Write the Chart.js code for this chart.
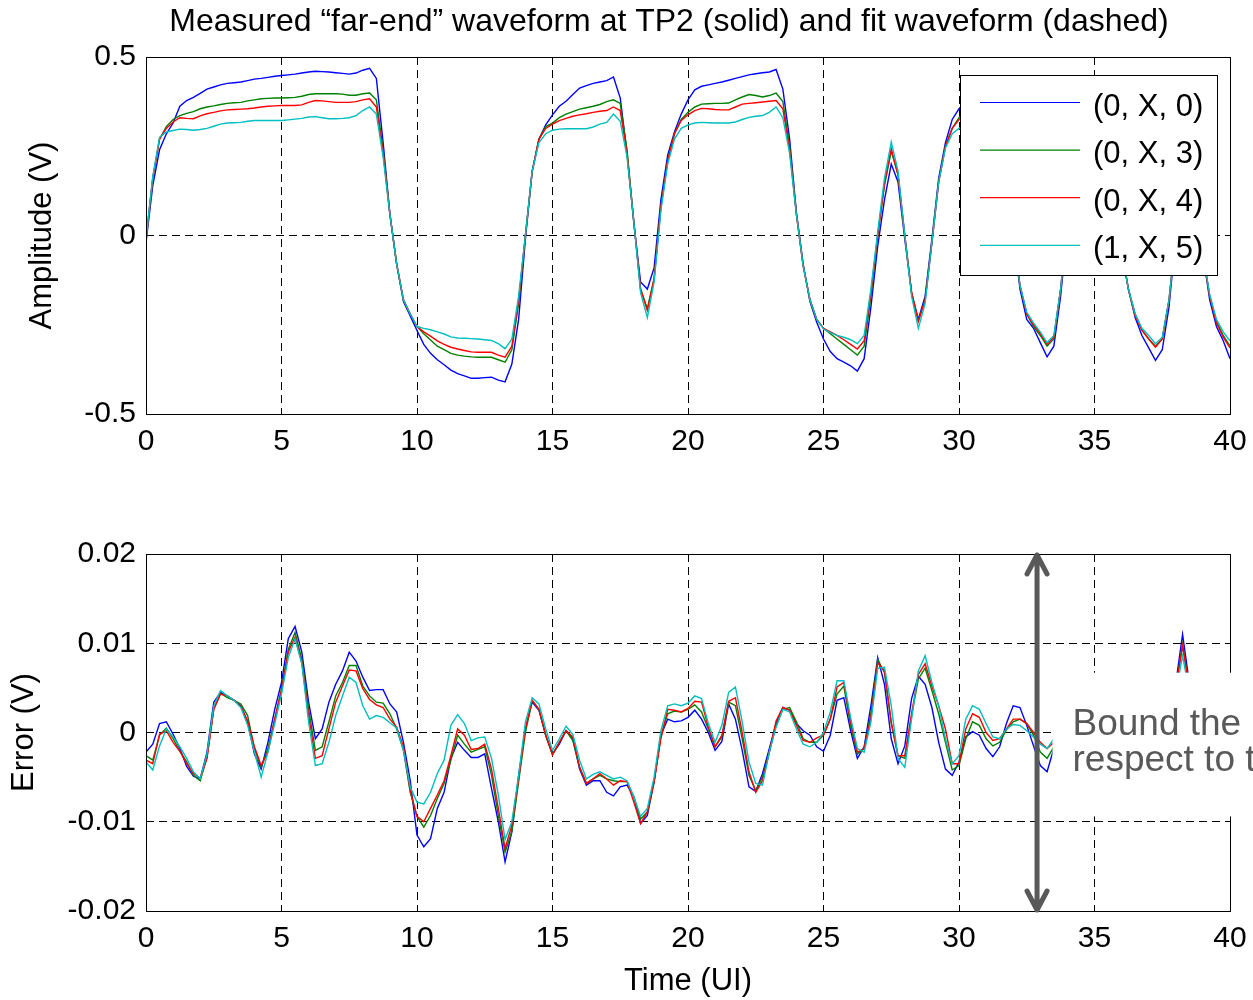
<!DOCTYPE html>
<html>
<head>
<meta charset="utf-8">
<script src="https://cdn.jsdelivr.net/npm/chart.js@4.4.1/dist/chart.umd.min.js"></script>
<style>
  body { margin: 0; background: #fff; }
  #wrap { position: relative; width: 1253px; height: 1000px; }
  .pane { position: absolute; left: 0; width: 1253px; }
  #topPane { top: 0; height: 470px; }
  #bottomPane { top: 470px; height: 530px; }
</style>
</head>
<body>
<div id="wrap">
  <div class="pane" id="topPane"><canvas id="ampChart"></canvas></div>
  <div class="pane" id="bottomPane"><canvas id="errChart"></canvas></div>
</div>
<script>
// sample times (UI)
const timeUI = [
  0, 0.25, 0.5, 0.75, 1, 1.25, 1.5, 1.75, 2, 2.25, 2.5, 2.75, 3, 3.25, 3.5, 3.75, 4, 4.25, 4.5, 4.75,
  5, 5.25, 5.5, 5.75, 6, 6.25, 6.5, 6.75, 7, 7.25, 7.5, 7.75, 8, 8.25, 8.5, 8.75, 9, 9.25, 9.5, 9.75,
  10, 10.25, 10.5, 10.75, 11, 11.25, 11.5, 11.75, 12, 12.25, 12.5, 12.75, 13, 13.25, 13.5, 13.75, 14, 14.25, 14.5, 14.75,
  15, 15.25, 15.5, 15.75, 16, 16.25, 16.5, 16.75, 17, 17.25, 17.5, 17.75, 18, 18.25, 18.5, 18.75, 19, 19.25, 19.5, 19.75,
  20, 20.25, 20.5, 20.75, 21, 21.25, 21.5, 21.75, 22, 22.25, 22.5, 22.75, 23, 23.25, 23.5, 23.75, 24, 24.25, 24.5, 24.75,
  25, 25.25, 25.5, 25.75, 26, 26.25, 26.5, 26.75, 27, 27.25, 27.5, 27.75, 28, 28.25, 28.5, 28.75, 29, 29.25, 29.5, 29.75,
  30, 30.25, 30.5, 30.75, 31, 31.25, 31.5, 31.75, 32, 32.25, 32.5, 32.75, 33, 33.25, 33.5, 33.75, 34, 34.25, 34.5, 34.75,
  35, 35.25, 35.5, 35.75, 36, 36.25, 36.5, 36.75, 37, 37.25, 37.5, 37.75, 38, 38.25, 38.5, 38.75, 39, 39.25, 39.5, 39.75,
  40
];

const seriesNames = ['(0, X, 0)', '(0, X, 3)', '(0, X, 4)', '(1, X, 5)'];
const seriesColors = ['#0000ff', '#008000', '#ff0000', '#00bfbf'];

const timeTicks = [0, 5, 10, 15, 20, 25, 30, 35, 40];
const ampTicks = [-0.5, 0, 0.5];
const errTicks = [-0.02, -0.01, 0, 0.01, 0.02];

// Measured far-end waveform (V)
const ampBlue = [
  -0.02, 0.14, 0.24, 0.285, 0.315, 0.362, 0.378, 0.387, 0.398, 0.41, 0.416, 0.422, 0.426, 0.428, 0.43, 0.434, 0.438, 0.44, 0.443, 0.446,
  0.448, 0.45, 0.452, 0.455, 0.458, 0.46, 0.459, 0.458, 0.456, 0.454, 0.452, 0.455, 0.463, 0.468, 0.44, 0.26, 0.06, -0.08, -0.185, -0.225,
  -0.266, -0.305, -0.33, -0.348, -0.362, -0.377, -0.387, -0.393, -0.4, -0.4, -0.398, -0.397, -0.405, -0.41, -0.36, -0.235, -0.01, 0.18, 0.27, 0.31,
  0.338, 0.362, 0.376, 0.395, 0.413, 0.42, 0.426, 0.43, 0.434, 0.444, 0.385, 0.23, 0.035, -0.13, -0.15, -0.09, 0.1, 0.225, 0.29, 0.34,
  0.38, 0.408, 0.418, 0.422, 0.426, 0.43, 0.435, 0.44, 0.445, 0.45, 0.453, 0.456, 0.458, 0.465, 0.41, 0.27, 0.065, -0.08, -0.185, -0.243,
  -0.29, -0.325, -0.345, -0.355, -0.365, -0.38, -0.345, -0.2, -0.03, 0.1, 0.2, 0.15, -0.01, -0.16, -0.235, -0.17, -0.01, 0.16, 0.26, 0.325,
  0.355, 0.375, 0.39, 0.4, 0.41, 0.42, 0.35, 0.2, 0.01, -0.15, -0.235, -0.26, -0.3, -0.34, -0.31, -0.17, 0.02, 0.17, 0.25, 0.3,
  0.33, 0.35, 0.28, 0.13, -0.04, -0.15, -0.23, -0.28, -0.315, -0.35, -0.32, -0.2, 0.0, 0.16, 0.22, 0.1, -0.05, -0.18, -0.255, -0.295,
  -0.345
];
const ampGreen = [
  -0.01, 0.16, 0.27, 0.305, 0.325, 0.336, 0.342, 0.347, 0.355, 0.36, 0.363, 0.367, 0.37, 0.372, 0.373, 0.377, 0.38, 0.383, 0.384, 0.385,
  0.385, 0.386, 0.387, 0.39, 0.395, 0.397, 0.397, 0.397, 0.397, 0.396, 0.393, 0.393, 0.397, 0.399, 0.38, 0.24, 0.06, -0.08, -0.18, -0.22,
  -0.255, -0.275, -0.293, -0.31, -0.32, -0.33, -0.335, -0.338, -0.34, -0.341, -0.341, -0.341, -0.348, -0.355, -0.32, -0.19, 0.0, 0.18, 0.27, 0.305,
  0.315, 0.33, 0.34, 0.347, 0.354, 0.358, 0.362, 0.367, 0.375, 0.38, 0.37, 0.24, 0.04, -0.15, -0.205, -0.12, 0.08, 0.21, 0.285, 0.325,
  0.345, 0.36, 0.368, 0.369, 0.37, 0.37, 0.371, 0.38, 0.388, 0.395, 0.392, 0.388, 0.392, 0.399, 0.375, 0.25, 0.06, -0.085, -0.18, -0.235,
  -0.26, -0.275, -0.29, -0.305, -0.32, -0.335, -0.31, -0.17, 0.0, 0.14, 0.237, 0.17, 0.0, -0.16, -0.24, -0.18, -0.02, 0.15, 0.25, 0.3,
  0.33, 0.35, 0.36, 0.365, 0.37, 0.375, 0.33, 0.19, 0.01, -0.14, -0.22, -0.255, -0.28, -0.31, -0.29, -0.15, 0.03, 0.16, 0.23, 0.27,
  0.3, 0.31, 0.26, 0.12, -0.04, -0.15, -0.22, -0.265, -0.29, -0.31, -0.29, -0.18, 0.0, 0.14, 0.2, 0.09, -0.05, -0.17, -0.24, -0.28,
  -0.31
];
const ampRed = [
  -0.01, 0.16, 0.27, 0.3, 0.318, 0.33, 0.328, 0.327, 0.335, 0.341, 0.345, 0.349, 0.352, 0.353, 0.354, 0.355, 0.357, 0.36, 0.362, 0.363,
  0.364, 0.364, 0.364, 0.366, 0.373, 0.378, 0.377, 0.375, 0.373, 0.373, 0.373, 0.375, 0.38, 0.383, 0.36, 0.23, 0.06, -0.08, -0.18, -0.22,
  -0.255, -0.27, -0.282, -0.295, -0.305, -0.313, -0.318, -0.322, -0.326, -0.327, -0.327, -0.327, -0.335, -0.341, -0.31, -0.18, 0.0, 0.18, 0.27, 0.3,
  0.312, 0.322, 0.328, 0.334, 0.338, 0.341, 0.345, 0.348, 0.35, 0.36, 0.35, 0.23, 0.04, -0.15, -0.21, -0.12, 0.08, 0.21, 0.285, 0.322,
  0.338, 0.35, 0.356, 0.355, 0.353, 0.352, 0.352, 0.36, 0.368, 0.37, 0.372, 0.374, 0.376, 0.378, 0.355, 0.24, 0.06, -0.085, -0.18, -0.235,
  -0.26, -0.27, -0.28, -0.292, -0.305, -0.318, -0.295, -0.16, 0.0, 0.145, 0.243, 0.17, 0.0, -0.16, -0.24, -0.18, -0.02, 0.15, 0.25, 0.3,
  0.325, 0.34, 0.345, 0.35, 0.355, 0.36, 0.32, 0.18, 0.01, -0.14, -0.22, -0.25, -0.275, -0.305, -0.285, -0.15, 0.03, 0.16, 0.23, 0.27,
  0.29, 0.3, 0.25, 0.12, -0.04, -0.15, -0.225, -0.265, -0.29, -0.313, -0.29, -0.18, 0.0, 0.14, 0.2, 0.09, -0.05, -0.17, -0.245, -0.285,
  -0.315
];
const ampCyan = [
  -0.01, 0.165, 0.275, 0.29, 0.294, 0.298, 0.297, 0.295, 0.297, 0.3, 0.306, 0.312, 0.315, 0.316, 0.317, 0.32, 0.322, 0.322, 0.322, 0.322,
  0.322, 0.324, 0.326, 0.328, 0.332, 0.333, 0.33, 0.327, 0.327, 0.328, 0.33, 0.336, 0.35, 0.36, 0.34, 0.22, 0.06, -0.08, -0.18, -0.22,
  -0.255, -0.26, -0.264, -0.27, -0.276, -0.284, -0.287, -0.288, -0.289, -0.29, -0.292, -0.294, -0.303, -0.317, -0.29, -0.17, 0.0, 0.18, 0.26, 0.285,
  0.295, 0.298, 0.299, 0.299, 0.299, 0.299, 0.304, 0.312, 0.317, 0.34, 0.32, 0.22, 0.04, -0.16, -0.23, -0.13, 0.07, 0.2, 0.27, 0.3,
  0.31, 0.315, 0.317, 0.316, 0.315, 0.315, 0.315, 0.318, 0.325, 0.331, 0.334, 0.336, 0.345, 0.36, 0.33, 0.23, 0.06, -0.085, -0.18, -0.235,
  -0.262, -0.272, -0.28, -0.285, -0.292, -0.303, -0.28, -0.15, 0.01, 0.16, 0.262, 0.18, 0.0, -0.17, -0.26, -0.19, -0.02, 0.15, 0.245, 0.285,
  0.3, 0.31, 0.315, 0.318, 0.32, 0.325, 0.29, 0.17, 0.01, -0.14, -0.215, -0.245, -0.27, -0.3, -0.28, -0.15, 0.03, 0.16, 0.22, 0.26,
  0.28, 0.29, 0.24, 0.11, -0.04, -0.15, -0.22, -0.26, -0.28, -0.303, -0.285, -0.18, 0.0, 0.13, 0.19, 0.08, -0.05, -0.165, -0.235, -0.27,
  -0.295
];

// Fit error (V) - null where the picture hides the trace
const errBlue = [
  -0.0022, -0.0013, 0.0010, 0.0012, -0.0002, -0.0018, -0.0038, -0.0049, -0.0052, -0.0022, 0.0034, 0.0045, 0.0041, 0.0036, 0.0030, 0.0012, -0.0024, -0.0041, -0.0011, 0.0026,
  0.0056, 0.0105, 0.0119, 0.0090, 0.0034, -0.0007, 0.0004, 0.0034, 0.0054, 0.0069, 0.0090, 0.0080, 0.0062, 0.0047, 0.0048, 0.0048, 0.0032, 0.0023, -0.0011, -0.0054,
  -0.0115, -0.0128, -0.0119, -0.0085, -0.0067, -0.0029, -0.0011, -0.0020, -0.0028, -0.0028, -0.0024, -0.0063, -0.0100, -0.0145, -0.0111, -0.0048, 0.0004, 0.0034, 0.0025, -0.0003,
  -0.0024, -0.0013, 0.0002, -0.0007, -0.0041, -0.0059, -0.0054, -0.0054, -0.0067, -0.0071, -0.0061, -0.0059, -0.0072, -0.0102, -0.0093, -0.0055, -0.0003, 0.0015, 0.0012, 0.0013,
  0.0017, 0.0025, 0.0015, 0.0000, -0.0020, -0.0010, 0.0032, 0.0015, -0.0020, -0.0061, -0.0066, -0.0046, -0.0018, 0.0010, 0.0028, 0.0025, 0.0010, 0.0002, -0.0003, -0.0016,
  -0.0021, -0.0003, 0.0036, 0.0039, 0.0002, -0.0029, -0.0016, 0.0030, 0.0084, 0.0054, -0.0007, -0.0035, -0.0015, 0.0038, 0.0063, 0.0054, 0.0028, -0.0011, -0.0041, -0.0048,
  -0.0033, -0.0005, 0.0001, -0.0003, -0.0018, -0.0027, -0.0016, 0.0010, 0.0030, 0.0028, 0.0008, -0.0015, -0.0037, -0.0044, -0.0018, null, null, null, null, null,
  null, null, null, null, null, null, null, null, null, null, null, null, 0.0055, 0.0110, 0.0055, null, null, null, null, null,
  null
];
const errGreen = [
  -0.0026, -0.0031, -0.0003, 0.0005, -0.0007, -0.0021, -0.0033, -0.0048, -0.0054, -0.0028, 0.0026, 0.0044, 0.0039, 0.0036, 0.0032, 0.0019, -0.0018, -0.0039, -0.0018, 0.0015,
  0.0049, 0.0093, 0.0112, 0.0082, 0.0026, -0.0020, -0.0016, 0.0012, 0.0041, 0.0056, 0.0075, 0.0075, 0.0052, 0.0041, 0.0034, 0.0033, 0.0021, 0.0004, -0.0020, -0.0067,
  -0.0094, -0.0106, -0.0093, -0.0074, -0.0057, -0.0031, -0.0003, -0.0013, -0.0022, -0.0019, -0.0016, -0.0048, -0.0093, -0.0134, -0.0111, -0.0055, 0.0000, 0.0036, 0.0026, -0.0003,
  -0.0025, -0.0011, 0.0002, -0.0009, -0.0039, -0.0057, -0.0052, -0.0048, -0.0052, -0.0054, -0.0055, -0.0055, -0.0072, -0.0097, -0.0089, -0.0055, -0.0003, 0.0021, 0.0024, 0.0023,
  0.0026, 0.0031, 0.0023, 0.0004, -0.0016, -0.0005, 0.0034, 0.0030, -0.0007, -0.0048, -0.0065, -0.0050, -0.0022, 0.0008, 0.0026, 0.0028, 0.0012, -0.0007, -0.0011, -0.0011,
  -0.0003, 0.0015, 0.0043, 0.0052, 0.0008, -0.0024, -0.0018, 0.0021, 0.0082, 0.0067, 0.0010, -0.0026, -0.0029, 0.0019, 0.0060, 0.0072, 0.0047, 0.0021, -0.0011, -0.0042,
  -0.0037, -0.0007, 0.0012, 0.0008, -0.0007, -0.0015, -0.0011, 0.0003, 0.0012, 0.0015, 0.0010, -0.0003, -0.0022, -0.0029, -0.0016, null, null, null, null, null,
  null, null, null, null, null, null, null, null, null, null, null, null, 0.0050, 0.0099, 0.0050, null, null, null, null, null,
  null
];
const errRed = [
  -0.0031, -0.0035, -0.0002, 0.0002, -0.0011, -0.0021, -0.0035, -0.0046, -0.0051, -0.0029, 0.0026, 0.0043, 0.0041, 0.0036, 0.0029, 0.0013, -0.0016, -0.0037, -0.0022, 0.0015,
  0.0047, 0.0090, 0.0107, 0.0078, 0.0019, -0.0029, -0.0026, 0.0004, 0.0034, 0.0052, 0.0070, 0.0069, 0.0049, 0.0037, 0.0031, 0.0028, 0.0015, 0.0006, -0.0016, -0.0065,
  -0.0094, -0.0100, -0.0085, -0.0070, -0.0054, -0.0026, 0.0004, -0.0003, -0.0019, -0.0018, -0.0013, -0.0041, -0.0085, -0.0130, -0.0104, -0.0052, 0.0004, 0.0036, 0.0026, -0.0003,
  -0.0025, -0.0011, 0.0002, -0.0005, -0.0039, -0.0057, -0.0052, -0.0046, -0.0052, -0.0059, -0.0054, -0.0055, -0.0078, -0.0102, -0.0089, -0.0055, -0.0007, 0.0026, 0.0025, 0.0023,
  0.0027, 0.0035, 0.0034, 0.0006, -0.0016, -0.0003, 0.0035, 0.0039, 0.0000, -0.0044, -0.0067, -0.0054, -0.0022, 0.0013, 0.0028, 0.0025, 0.0008, -0.0009, -0.0011, -0.0006,
  -0.0003, 0.0015, 0.0051, 0.0056, 0.0012, -0.0022, -0.0018, 0.0017, 0.0078, 0.0069, 0.0012, -0.0026, -0.0026, 0.0021, 0.0065, 0.0077, 0.0052, 0.0030, 0.0004, -0.0035,
  -0.0035, 0.0004, 0.0021, 0.0017, 0.0000, -0.0009, -0.0007, 0.0004, 0.0015, 0.0015, 0.0010, 0.0000, -0.0011, -0.0018, -0.0011, null, null, null, null, null,
  null, null, null, null, null, null, null, null, null, null, null, null, 0.0050, 0.0097, 0.0050, null, null, null, null, null,
  null
];
const errCyan = [
  -0.0033, -0.0042, -0.0015, 0.0004, -0.0005, -0.0016, -0.0029, -0.0044, -0.0052, -0.0024, 0.0030, 0.0047, 0.0041, 0.0036, 0.0028, 0.0008, -0.0022, -0.0050, -0.0022, 0.0010,
  0.0043, 0.0084, 0.0105, 0.0077, 0.0012, -0.0037, -0.0035, -0.0011, 0.0019, 0.0041, 0.0062, 0.0056, 0.0030, 0.0015, 0.0019, 0.0017, 0.0011, 0.0005, -0.0020, -0.0061,
  -0.0078, -0.0080, -0.0067, -0.0046, -0.0031, 0.0008, 0.0020, 0.0010, -0.0009, -0.0006, -0.0005, -0.0029, -0.0070, -0.0120, -0.0100, -0.0048, 0.0012, 0.0039, 0.0032, 0.0004,
  -0.0020, -0.0007, 0.0007, -0.0002, -0.0031, -0.0052, -0.0047, -0.0044, -0.0048, -0.0052, -0.0050, -0.0054, -0.0072, -0.0094, -0.0085, -0.0050, 0.0002, 0.0030, 0.0032, 0.0030,
  0.0033, 0.0041, 0.0038, 0.0010, -0.0011, 0.0008, 0.0045, 0.0051, 0.0012, -0.0033, -0.0057, -0.0059, -0.0022, 0.0006, 0.0026, 0.0023, 0.0004, -0.0013, -0.0016, -0.0011,
  0.0000, 0.0023, 0.0058, 0.0058, 0.0017, -0.0018, -0.0022, 0.0012, 0.0072, 0.0073, 0.0030, -0.0029, -0.0039, 0.0015, 0.0069, 0.0086, 0.0056, 0.0030, -0.0007, -0.0035,
  -0.0026, 0.0015, 0.0030, 0.0026, 0.0010, -0.0005, -0.0007, 0.0004, 0.0009, 0.0008, 0.0002, -0.0005, -0.0013, -0.0018, -0.0007, null, null, null, null, null,
  null, null, null, null, null, null, null, null, null, null, null, null, 0.0045, 0.0086, 0.0045, null, null, null, null, null,
  null
];

const FONT = "'Liberation Sans', Arial, Helvetica, sans-serif";
Chart.defaults.font.family = FONT;
Chart.defaults.color = '#000';

function buildDatasets(seriesList) {
  return seriesList.map((values, i) => ({
    label: seriesNames[i],
    data: timeUI.map((t, k) => ({ x: t, y: values[k] })),
    borderColor: seriesColors[i],
    borderWidth: 1.4,
    pointRadius: 0,
    tension: 0,
    spanGaps: false,
    order: seriesList.length - i // cyan ends up on top like the original
  }));
}

function buildScales(yTicks, yTitle, yTitlePad, xHeight, xTitle) {
  return {
    x: {
      type: 'linear', min: 0, max: 40,
      afterBuildTicks: (s) => { s.ticks = timeTicks.map(v => ({ value: v })); },
      // fixed height, and no extra side padding for the end labels
      afterFit: (s) => { s.height = xHeight; s.paddingLeft = 0; s.paddingRight = 0; },
      grid: { color: '#000', lineWidth: 1, drawTicks: false },
      border: { display: false, dash: [8, 5] },
      ticks: { padding: 10, maxRotation: 0, autoSkip: false, font: { size: 30 }, callback: v => String(v) },
      title: { display: !!xTitle, text: xTitle || '', font: { size: 31 }, padding: { top: 0, bottom: 0 } }
    },
    y: {
      type: 'linear', min: yTicks[0], max: yTicks[yTicks.length - 1],
      afterBuildTicks: (s) => { s.ticks = yTicks.map(v => ({ value: v })); },
      afterFit: (s) => { s.width = 146; s.paddingTop = 0; s.paddingBottom = 0; },
      grid: { color: '#000', lineWidth: 1, drawTicks: false },
      border: { display: false, dash: [8, 5] },
      ticks: { padding: 10, font: { size: 30 }, callback: v => String(v) },
      title: { display: true, text: yTitle, font: { size: 31 }, padding: { top: yTitlePad, bottom: 0 } }
    }
  };
}

// solid axes box
const framePlugin = {
  id: 'frame',
  afterDatasetsDraw(chart) {
    const { ctx, chartArea: a } = chart;
    ctx.save();
    ctx.setLineDash([]);
    ctx.strokeStyle = '#000';
    ctx.lineWidth = 1;
    ctx.strokeRect(Math.round(a.left) + 0.5, Math.round(a.top) + 0.5, Math.round(a.width), Math.round(a.height));
    ctx.restore();
  }
};

const topDecor = {
  id: 'topDecor',
  afterDraw(chart) {
    const ctx = chart.ctx;
    ctx.save();
    // title
    ctx.fillStyle = '#000';
    ctx.font = '32px ' + FONT;
    ctx.textAlign = 'center';
    ctx.textBaseline = 'alphabetic';
    ctx.fillText('Measured \u201cfar-end\u201d waveform at TP2 (solid) and fit waveform (dashed)', 669, 31);
    // legend box
    ctx.fillStyle = '#fff';
    ctx.fillRect(960, 75, 258, 200);
    ctx.strokeStyle = '#000';
    ctx.lineWidth = 1;
    ctx.strokeRect(960.5, 75.5, 257, 200);
    ctx.font = '31px ' + FONT;
    ctx.textAlign = 'left';
    chart.data.datasets.forEach((ds, i) => {
      const y = 102.5 + i * 47.6;
      ctx.strokeStyle = ds.borderColor;
      ctx.lineWidth = 1.2;
      ctx.beginPath();
      ctx.moveTo(980, y);
      ctx.lineTo(1080, y);
      ctx.stroke();
      ctx.fillStyle = '#000';
      ctx.fillText(ds.label, 1093, y + 13);
    });
    ctx.restore();
  }
};

const bottomDecor = {
  id: 'bottomDecor',
  afterDraw(chart) {
    const { ctx, scales } = chart;
    const ax = scales.x.getPixelForValue(32.88);
    const yTop = scales.y.getPixelForValue(0.02);
    const yBot = scales.y.getPixelForValue(-0.02);
    ctx.save();
    // annotation box covering the right part of the plot
    const boxLeft = scales.x.getPixelForValue(33.45);
    const boxTop = scales.y.getPixelForValue(0.0067);
    const boxBot = scales.y.getPixelForValue(-0.0094);
    ctx.fillStyle = '#fff';
    ctx.fillRect(boxLeft, boxTop, chart.width - boxLeft, boxBot - boxTop);
    ctx.fillStyle = '#595959';
    ctx.font = '37px ' + FONT;
    ctx.textAlign = 'left';
    ctx.textBaseline = 'alphabetic';
    ctx.fillText('Bound the error with', boxLeft + 20, boxTop + 62);
    ctx.fillText('respect to the fit', boxLeft + 20, boxTop + 98);
    // double-headed arrow
    ctx.strokeStyle = '#595959';
    ctx.lineWidth = 5;
    ctx.lineCap = 'round';
    ctx.lineJoin = 'round';
    ctx.beginPath();
    ctx.moveTo(ax, yTop + 1);
    ctx.lineTo(ax, yBot - 1);
    ctx.moveTo(ax - 10, yTop + 20);
    ctx.lineTo(ax, yTop + 1);
    ctx.lineTo(ax + 10, yTop + 20);
    ctx.moveTo(ax - 10, yBot - 20);
    ctx.lineTo(ax, yBot - 1);
    ctx.lineTo(ax + 10, yBot - 20);
    ctx.stroke();
    ctx.restore();
  }
};

const commonOptions = {
  responsive: true,
  maintainAspectRatio: false,
  animation: false,
  events: [],
  plugins: { legend: { display: false }, tooltip: { enabled: false } }
};

new Chart(document.getElementById('ampChart').getContext('2d'), {
  type: 'line',
  data: { datasets: buildDatasets([ampBlue, ampGreen, ampRed, ampCyan]) },
  options: Object.assign({}, commonOptions, {
    layout: { padding: { top: 57, right: 23, bottom: 0, left: 0 } },
    scales: buildScales(ampTicks, 'Amplitude (V)', 24, 56, null)
  }),
  plugins: [framePlugin, topDecor]
});

new Chart(document.getElementById('errChart').getContext('2d'), {
  type: 'line',
  data: { datasets: buildDatasets([errBlue, errGreen, errRed, errCyan]) },
  options: Object.assign({}, commonOptions, {
    layout: { padding: { top: 84, right: 23, bottom: 0, left: 0 } },
    scales: buildScales(errTicks, 'Error (V)', 6, 89, 'Time (UI)')
  }),
  plugins: [framePlugin, bottomDecor]
});
</script>
</body>
</html>
